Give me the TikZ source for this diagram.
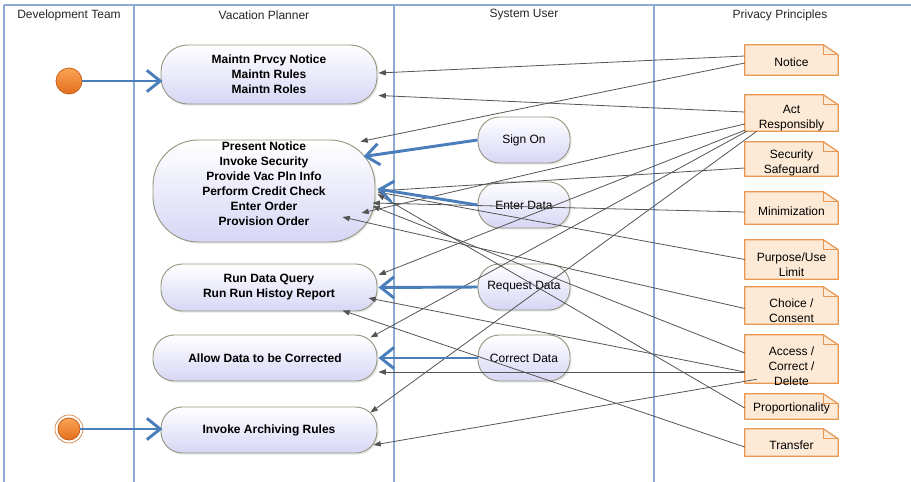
\documentclass[tikz,border=0pt]{standalone}
\usepackage{fontspec}
\setmainfont{Liberation Sans}
\usetikzlibrary{arrows.meta,calc,shadows}

\definecolor{laneblue}{RGB}{140,170,210}
\definecolor{flowblue}{RGB}{74,126,187}
\definecolor{actedge}{RGB}{150,152,128}
\definecolor{actbot}{RGB}{214,214,246}
\definecolor{notefill}{RGB}{253,234,214}
\definecolor{noteedge}{RGB}{232,150,80}
\definecolor{linkgray}{RGB}{85,85,85}
\definecolor{dotlight}{RGB}{250,165,85}
\definecolor{dotdark}{RGB}{228,110,30}
\definecolor{dotedge}{RGB}{200,95,25}

% privacy principle note with a folded corner:
% name, x, y, height, text, text offset
\newcommand\pnote[6]{%
  \node[notebox, minimum height=#4] (#1) at (#2,#3) {};
  \filldraw[noteshape] (#1.north west) -- ($(#1.north east)+(-15,0)$)
    -- ($(#1.north east)+(0,10)$) -- (#1.south east) -- (#1.south west) -- cycle;
  \draw[noteshape, fill=none] ($(#1.north east)+(-15,0)$)
    -- ($(#1.north east)+(-15,10)$) -- ($(#1.north east)+(0,10)$);
  \node[notetext] (#1-txt) at ($(#1.center)+(0,#6)$) {#5};
}

\begin{document}
\begin{tikzpicture}[x=0.75pt,y=-0.75pt,
  lane/.style={draw=laneblue,line width=0.8pt},
  lanehead/.style={font=\fontsize{9}{11}\selectfont,text=black!85,inner sep=0pt},
  activity/.style={draw=actedge,line width=0.7pt,top color=white,bottom color=actbot,
    inner sep=0pt,align=center,font=\bfseries\fontsize{9}{11.25}\selectfont,
    drop shadow={shadow xshift=1.2pt,shadow yshift=-1.2pt,opacity=0.18}},
  actlabel/.style={align=center,inner sep=0pt,font=\bfseries\fontsize{9}{11.25}\selectfont},
  useraction/.style={activity,font=\fontsize{9}{11.25}\selectfont,
    minimum width=69pt,minimum height=34.5pt,rounded corners=16pt},
  notebox/.style={draw=none,inner sep=0pt,minimum width=69.75pt},
  noteshape/.style={draw=noteedge,fill=notefill,line width=0.9pt,line join=round},
  notetext/.style={align=center,inner sep=0pt,font=\fontsize{9}{11.25}\selectfont},
  startdot/.style={circle,inner sep=0pt,draw=dotedge,line width=0.6pt,
    top color=dotlight,bottom color=dotdark},
  link/.style={draw=linkgray,line width=0.6pt,-{Triangle[length=5.5pt,width=4pt]}},
  flow/.style={draw=flowblue,line width=2.2pt,-{Straight Barb[length=10pt,width=16pt]}}
]
\useasboundingbox (0,0) rectangle (911,482);
\fill[white] (0,0) rectangle (911,482);

% swim lanes
\draw[lane] (4,5) -- (911,5);
\foreach \x in {4,134,394,654} \draw[lane] (\x,5) -- (\x,482);
\node[lanehead] (hdev) at (69,15) {Development Team};
\node[lanehead] (hvac) at (264,15) {Vacation Planner};
\node[lanehead] (husr) at (524,15) {System User};
\node[lanehead] (hpriv) at (780,15) {Privacy Principles};

% vacation planner activities
\node[activity,minimum width=162pt,minimum height=44.25pt,rounded corners=20pt]
  (act1) at (269,74.5) {Maintn Prvcy Notice\\Maintn Rules\\Maintn Roles};
\node[activity,minimum width=166.5pt,minimum height=76.5pt,rounded corners=34pt,
  label={[actlabel,yshift=5.6pt]center:{Present Notice\\Invoke Security\\Provide Vac Pln Info\\Perform Credit Check\\Enter Order\\Provision Order}}]
  (act2) at (264,191) {};
\node[activity,minimum width=162pt,minimum height=35.25pt,rounded corners=16pt]
  (act3) at (269,287.5) {Run Data Query\\Run Run Histoy Report};
\node[activity,minimum width=168pt,minimum height=34.5pt,rounded corners=16pt]
  (act4) at (265,358) {Allow Data to be Corrected};
\node[activity,minimum width=162pt,minimum height=34.5pt,rounded corners=16pt]
  (act5) at (269,430) {Invoke Archiving Rules};

% system user actions
\node[useraction] (signon) at (524,140) {Sign On};
\node[useraction] (enter) at (524,205) {Enter Data};
\node[useraction] (request) at (524,287) {Request Data};
\node[useraction] (correct) at (524,358) {Correct Data};

% development team start points
\node[startdot,minimum size=19.5pt] (start1) at (69,81) {};
\node[startdot,minimum size=16.5pt] (start2) at (69,429) {};
\draw[dotedge!70,line width=0.6pt] (start2.center) circle[radius=10.5pt];

% privacy principles
\pnote{notice}{791.5}{60}{22.5pt}{Notice}{2.7}
\pnote{actresp}{791.5}{113}{27pt}{Act\\Responsibly}{5.5}
\pnote{secure}{791.5}{159}{25.5pt}{Security\\Safeguard}{4}
\pnote{minim}{791.5}{208}{24pt}{Minimization}{3}
\pnote{purpose}{791.5}{259.5}{29.25pt}{Purpose/Use\\Limit}{5.5}
\pnote{choice}{791.5}{305.5}{27.75pt}{Choice /\\Consent}{5}
\pnote{access}{791.5}{359}{36pt}{Access /\\Correct /\\Delete}{7}
\pnote{proport}{791.5}{406.5}{18.75pt}{Proportionality}{1.5}
\pnote{transfer}{791.5}{442.5}{20.25pt}{Transfer}{2.5}

% principles applied to activities
\draw[link] ($(notice.west)+(0,-4)$) -- ($(act1.east)+(1,-1.5)$);
\draw[link] ($(notice.west)+(0,3)$) -- ($(act2.north east)+(-15,2)$);
\draw[link] ($(actresp.west)+(0,-1)$) -- ($(act1.south east)+(1,-9)$);
\draw[link] ($(actresp.west)+(0,11)$) -- ($(act2.east)+(-14,22)$);
\draw[link] ($(actresp.south west)+(0,-1)$) -- ($(act3.east)+(1,-12.5)$);
\draw[link] ($(actresp.south west)+(2,0)$) -- ($(act4.north east)+(-7,3)$);
\draw[link] ($(actresp.south west)+(12,0)$) -- ($(act5.north east)+(-7,6)$);
\draw[link] ($(secure.west)+(0,9)$) -- ($(act2.east)+(2,0)$);
\draw[link] ($(minim.west)+(0,4)$) -- ($(act2.east)+(-3,12)$);
\draw[link] (purpose.west) -- ($(act2.east)+(2,1)$);
\draw[link] ($(choice.west)+(0,3)$) -- ($(act2.east)+(-33,26)$);
\draw[link] ($(access.west)+(0,-6)$) -- ($(act2.east)+(-3,15)$);
\draw[link] ($(access.west)+(0,13)$) -- ($(act3.east)+(-9,10.5)$);
\draw[link] ($(access.west)+(0,13)$) -- ($(act4.east)+(1,14)$);
\draw[link] ($(access.south west)+(12,-4)$) -- ($(act5.east)+(-4,15)$);
\draw[link] ($(proport.west)+(0,1.5)$) -- ($(act2.east)+(2,3)$);
\draw[link] ($(transfer.west)+(0,4.5)$) -- ($(act3.south east)+(-35,-1)$);

% control flow
\draw[flow] (start1.east) -- ($(start1.east -| act1.west)+(2,0)$);
\draw[flow] (signon.west) -- ($(act2.north east)+(-12,17)$);
\draw[flow] (enter.west) -- ($(act2.east)+(2,-2)$);
\draw[flow] (request.west) -- ($(act3.east)+(1,0)$);
\draw[flow] (correct.west) -- ($(act4.east)+(1,0)$);
\draw[flow] (start2.east) -- ($(start2.east -| act5.west)+(2,0)$);
\end{tikzpicture}
\end{document}
